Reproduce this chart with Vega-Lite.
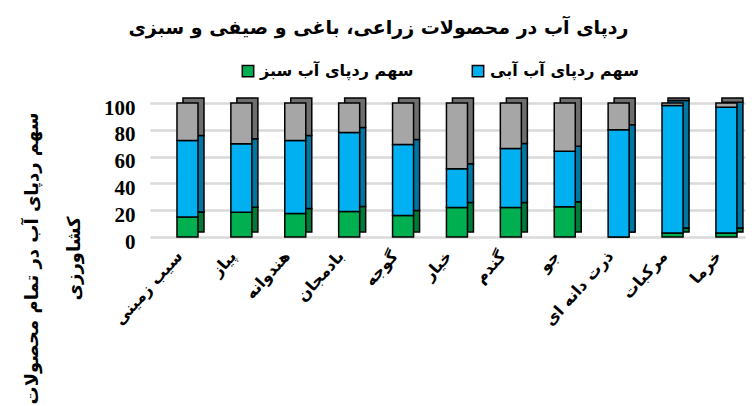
{
  "$schema": "https://vega.github.io/schema/vega-lite/v6.json",
  "width": 595,
  "height": 134,
  "autosize": {"type": "none"},
  "padding": {"left": 150, "top": 103, "right": 10, "bottom": 169},
  "background": "white",
  "config": {"view": {"stroke": null}},
  "title": {
    "text": "ردپای آب در محصولات زراعی، باغی و صیفی و سبزی",
    "font": "DejaVu Sans",
    "fontSize": 19,
    "fontWeight": "bold",
    "color": "black",
    "anchor": "middle",
    "frame": "group",
    "dx": -69,
    "offset": 25
  },
  "data": {
    "values": [
      {"crop": "سیب زمینی", "series": "سهم ردپای آب سبز", "value": 15},
      {"crop": "سیب زمینی", "series": "سهم ردپای آب آبی", "value": 57},
      {"crop": "سیب زمینی", "series": "سایر", "value": 28},
      {"crop": "پیاز", "series": "سهم ردپای آب سبز", "value": 18.5},
      {"crop": "پیاز", "series": "سهم ردپای آب آبی", "value": 51},
      {"crop": "پیاز", "series": "سایر", "value": 30.5},
      {"crop": "هندوانه", "series": "سهم ردپای آب سبز", "value": 17.5},
      {"crop": "هندوانه", "series": "سهم ردپای آب آبی", "value": 54.5},
      {"crop": "هندوانه", "series": "سایر", "value": 28},
      {"crop": "بادمجان", "series": "سهم ردپای آب سبز", "value": 19},
      {"crop": "بادمجان", "series": "سهم ردپای آب آبی", "value": 59},
      {"crop": "بادمجان", "series": "سایر", "value": 22},
      {"crop": "گوجه", "series": "سهم ردپای آب سبز", "value": 16},
      {"crop": "گوجه", "series": "سهم ردپای آب آبی", "value": 53},
      {"crop": "گوجه", "series": "سایر", "value": 31},
      {"crop": "خیار", "series": "سهم ردپای آب سبز", "value": 22},
      {"crop": "خیار", "series": "سهم ردپای آب آبی", "value": 29},
      {"crop": "خیار", "series": "سایر", "value": 49},
      {"crop": "گندم", "series": "سهم ردپای آب سبز", "value": 22},
      {"crop": "گندم", "series": "سهم ردپای آب آبی", "value": 44},
      {"crop": "گندم", "series": "سایر", "value": 34},
      {"crop": "جو", "series": "سهم ردپای آب سبز", "value": 22.5},
      {"crop": "جو", "series": "سهم ردپای آب آبی", "value": 41.5},
      {"crop": "جو", "series": "سایر", "value": 36},
      {"crop": "ذرت دانه ای", "series": "سهم ردپای آب سبز", "value": 0},
      {"crop": "ذرت دانه ای", "series": "سهم ردپای آب آبی", "value": 80},
      {"crop": "ذرت دانه ای", "series": "سایر", "value": 20},
      {"crop": "مرکبات", "series": "سهم ردپای آب سبز", "value": 3},
      {"crop": "مرکبات", "series": "سهم ردپای آب آبی", "value": 95.2},
      {"crop": "مرکبات", "series": "سایر", "value": 1.8},
      {"crop": "خرما", "series": "سهم ردپای آب سبز", "value": 3},
      {"crop": "خرما", "series": "سهم ردپای آب آبی", "value": 93.8},
      {"crop": "خرما", "series": "سایر", "value": 3.2}
    ]
  },
  "encoding": {
    "x": {
      "field": "crop",
      "type": "nominal",
      "sort": null,
      "scale": {"paddingInner": 0.61, "paddingOuter": 0.325, "align": 0.77},
      "axis": {
        "title": null,
        "labelAngle": -48,
        "labelFont": "DejaVu Sans",
        "labelFontSize": 16,
        "labelFontWeight": "bold",
        "labelColor": "black",
        "labelPadding": 16,
        "labelOffset": -8,
        "ticks": false,
        "domain": false,
        "grid": false
      }
    },
    "y": {
      "field": "value",
      "type": "quantitative",
      "stack": "zero",
      "scale": {"domain": [0, 100], "nice": false},
      "axis": {
        "values": [0, 20, 40, 60, 80, 100],
        "labelFont": "Liberation Serif",
        "labelFontSize": 21,
        "labelFontWeight": "bold",
        "labelColor": "black",
        "labelPadding": 15,
        "labelOffset": 5,
        "ticks": false,
        "domain": false,
        "gridColor": "#d9d9d9",
        "gridWidth": 2.5,
        "title": ["سهم ردپای آب در تمام محصولات", "کشاورزی"],
        "titleFont": "DejaVu Sans",
        "titleFontSize": 18,
        "titleFontWeight": "bold",
        "titleColor": "black",
        "titleAngle": -90,
        "titleAlign": "center",
        "titleBaseline": "top",
        "titleX": -127,
        "titleY": 155,
        "titleLineHeight": 42
      }
    }
  },
  "layer": [
    {
      "mark": {"type": "bar", "xOffset": 6, "yOffset": -5, "stroke": "black", "strokeWidth": 1.5},
      "encoding": {
        "color": {
          "field": "series",
          "type": "nominal",
          "sort": ["سهم ردپای آب سبز", "سهم ردپای آب آبی", "سایر"],
          "scale": {"domain": ["سهم ردپای آب سبز", "سهم ردپای آب آبی", "سایر"], "range": ["#007a37", "#0076a3", "#6e6e6e"]},
          "legend": null
        }
      }
    },
    {
      "mark": {"type": "bar", "stroke": "black", "strokeWidth": 1.5},
      "encoding": {
        "color": {
          "field": "series",
          "type": "nominal",
          "sort": ["سهم ردپای آب سبز", "سهم ردپای آب آبی", "سایر"],
          "scale": {"domain": ["سهم ردپای آب سبز", "سهم ردپای آب آبی", "سایر"], "range": ["#00b050", "#00b0f0", "#a6a6a6"]},
          "legend": {
            "values": ["سهم ردپای آب سبز", "سهم ردپای آب آبی"],
            "title": null,
            "orient": "none",
            "direction": "horizontal",
            "legendX": 90,
            "legendY": -40,
            "symbolType": "square",
            "symbolSize": 130,
            "symbolStrokeColor": "black",
            "symbolStrokeWidth": 1.5,
            "labelFont": "DejaVu Sans",
            "labelFontSize": 16,
            "labelFontWeight": "bold",
            "labelColor": "black",
            "labelLimit": 300,
            "columnPadding": 55
          }
        }
      }
    }
  ],
  "resolve": {"scale": {"color": "independent"}}
}
